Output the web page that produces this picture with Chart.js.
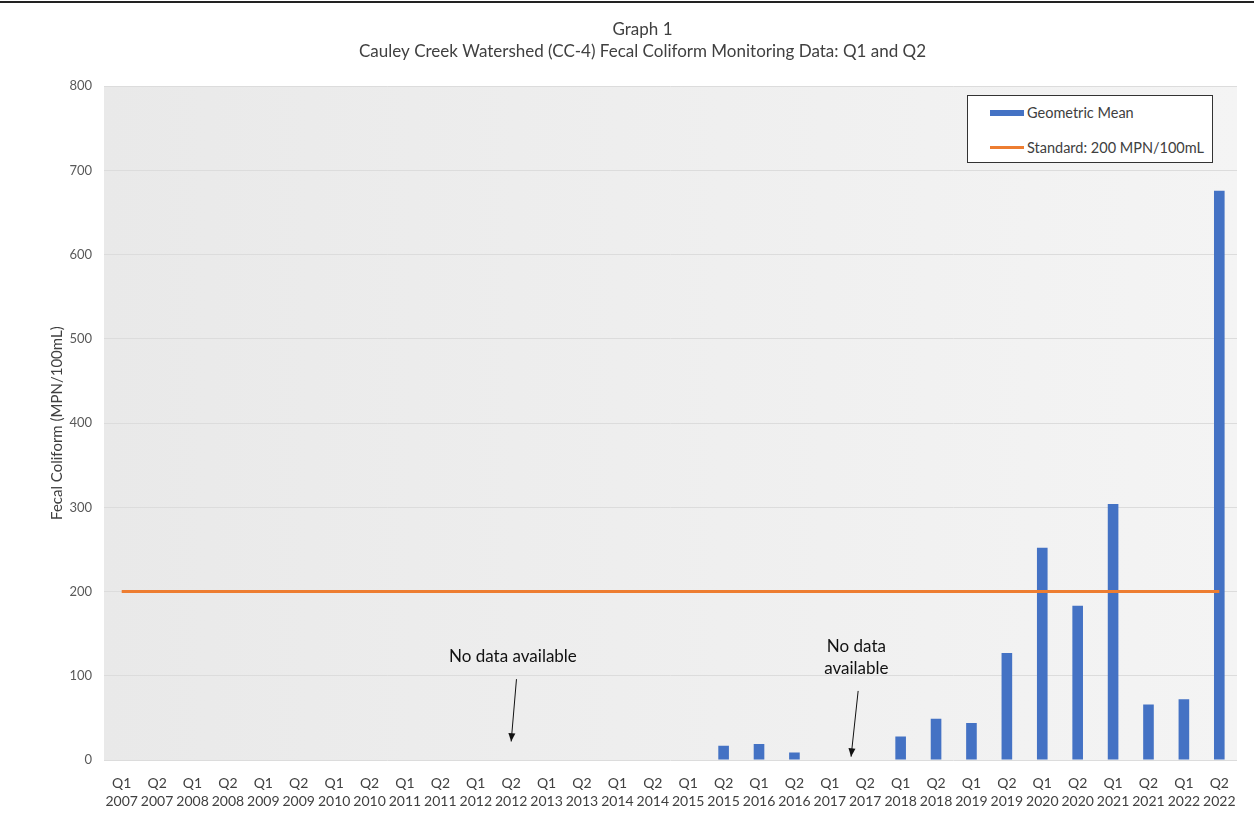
<!DOCTYPE html>
<html>
<head>
<meta charset="utf-8">
<title>Graph 1</title>
<script src="https://cdn.jsdelivr.net/npm/chart.js@4.4.1/dist/chart.umd.min.js"></script>
<style>
  html, body { margin: 0; padding: 0; background: #fff; }
  body { width: 1254px; height: 818px; position: relative; overflow: hidden; font-family: Lato, "Open Sans", sans-serif; }
  .top-rule { position: absolute; left: 0; top: 1px; width: 1254px; height: 2px; background: #222; }
  .wrap { position: absolute; left: 0; top: 0; width: 1254px; height: 818px; }
  .legend {
    position: absolute; left: 967px; top: 95px; width: 246px; height: 68px;
    box-sizing: border-box; border: 1px solid #333; background: #fff;
    font-size: 14.5px; color: #404040;
  }
  .legend .row { position: absolute; left: 22px; display: flex; align-items: center; white-space: nowrap; }
  .legend .row span.sw { display: inline-block; width: 34px; margin-right: 3px; }
  .legend .bar-sw { height: 6px; background: #4472c4; }
  .legend .line-sw { height: 3px; background: #ed7d31; }
</style>
</head>
<body>
<div class="top-rule"></div>
<div class="wrap"><canvas id="chart" width="1254" height="818"></canvas></div>
<div class="legend">
  <div class="row" style="top:8px"><span class="sw bar-sw"></span>Geometric Mean</div>
  <div class="row" style="top:43px"><span class="sw line-sw"></span>Standard: 200 MPN/100mL</div>
</div>
<script>
const quarters = ["Q1","Q2","Q1","Q2","Q1","Q2","Q1","Q2","Q1","Q2","Q1","Q2","Q1","Q2","Q1","Q2",
  "Q1","Q2","Q1","Q2","Q1","Q2","Q1","Q2","Q1","Q2","Q1","Q2","Q1","Q2","Q1","Q2"];
const years = ["2007","2007","2008","2008","2009","2009","2010","2010","2011","2011","2012","2012",
  "2013","2013","2014","2014","2015","2015","2016","2016","2017","2017","2018","2018","2019","2019",
  "2020","2020","2021","2021","2022","2022"];

// geometric mean per sample period (null = no sample)
const geoMean = [null,null,null,null,null,null,null,null,null,null,null,null,null,null,null,null,
  null,17,19,9,null,null,28,49,44,127,252,183,304,66,72,676];
const standard = quarters.map(() => 200);

const yTicks = [0,100,200,300,400,500,600,700,800];

// notes: [category index, value] for text and arrow ends
const noteText = [["No data available"], ["No data", "available"]];
const noteAt = [[11.05, 123], [20.75, 122]];
const arrowFrom = [[11.15, 96], [20.8, 82]];
const arrowTo = [[11.0, 22], [20.6, 4]];

const labels = quarters.map((q, i) => [q, years[i]]);
const FONT = "Lato, 'Open Sans', sans-serif";

const plotBg = {
  id: "plotBg",
  beforeDraw(chart) {
    const { ctx, chartArea: a } = chart;
    const g = ctx.createLinearGradient(a.left, 0, a.right, 0);
    g.addColorStop(0, "#e9e9e9");
    g.addColorStop(1, "#f4f4f4");
    ctx.save();
    ctx.fillStyle = g;
    ctx.fillRect(a.left, a.top, a.right - a.left, a.bottom - a.top);
    ctx.restore();
  },
};

const notes = {
  id: "notes",
  afterDraw(chart) {
    const { ctx } = chart;
    const x = chart.scales.x, y = chart.scales.y;
    ctx.save();
    ctx.fillStyle = "#111";
    ctx.strokeStyle = "#111";
    ctx.font = "17px " + FONT;
    ctx.textAlign = "center";
    ctx.textBaseline = "middle";
    noteText.forEach((lines, i) => {
      const cx = x.getPixelForValue(noteAt[i][0]);
      const cy = y.getPixelForValue(noteAt[i][1]);
      lines.forEach((t, j) => {
        const off = (j - (lines.length - 1) / 2) * 22;
        ctx.fillText(t, cx, cy + off);
      });
      const x1 = x.getPixelForValue(arrowFrom[i][0]), y1 = y.getPixelForValue(arrowFrom[i][1]);
      const x2 = x.getPixelForValue(arrowTo[i][0]), y2 = y.getPixelForValue(arrowTo[i][1]);
      ctx.lineWidth = 1;
      ctx.beginPath();
      ctx.moveTo(x1, y1);
      ctx.lineTo(x2, y2);
      ctx.stroke();
      const ang = Math.atan2(y2 - y1, x2 - x1);
      ctx.beginPath();
      ctx.moveTo(x2, y2);
      ctx.lineTo(x2 - 9 * Math.cos(ang - 0.4), y2 - 9 * Math.sin(ang - 0.4));
      ctx.lineTo(x2 - 9 * Math.cos(ang + 0.4), y2 - 9 * Math.sin(ang + 0.4));
      ctx.closePath();
      ctx.fill();
    });
    ctx.restore();
  },
};

new Chart(document.getElementById("chart"), {
  data: {
    labels: labels,
    datasets: [
      {
        type: "line",
        label: "Standard: 200 MPN/100mL",
        data: standard,
        borderColor: "#ed7d31",
        borderWidth: 3,
        pointRadius: 0,
        order: 0,
      },
      {
        type: "bar",
        label: "Geometric Mean",
        data: geoMean,
        backgroundColor: "#4472c4",
        barPercentage: 0.6,
        categoryPercentage: 0.5,
        order: 1,
      },
    ],
  },
  options: {
    responsive: false,
    animation: false,
    layout: { padding: { left: 48, right: 17, top: 4, bottom: 1 } },
    plugins: {
      legend: { display: false },
      tooltip: { enabled: false },
      title: {
        display: true,
        text: ["Graph 1", "Cauley Creek Watershed (CC-4) Fecal Coliform Monitoring Data: Q1 and Q2"],
        color: "#404040",
        font: { family: FONT, size: 17, weight: "normal", lineHeight: 1.3 },
        padding: { top: 14, bottom: 24 },
      },
    },
    scales: {
      x: {
        grid: { display: false },
        border: { display: false },
        ticks: {
          color: "#404040",
          font: { family: FONT, size: 14, lineHeight: 1.25 },
          maxRotation: 0,
          autoSkip: false,
          padding: 7,
        },
      },
      y: {
        min: 0,
        max: 800,
        afterBuildTicks: (axis) => { axis.ticks = yTicks.map((v) => ({ value: v })); },
        afterFit: (axis) => { axis.width = 56; },
        grid: { color: "#dcdcdc", drawTicks: false },
        border: { display: false },
        ticks: {
          color: "#595959",
          font: { family: FONT, size: 13 },
          padding: 12,
        },
        title: {
          display: true,
          text: "Fecal Coliform (MPN/100mL)",
          color: "#404040",
          font: { family: FONT, size: 15 },
          padding: { top: 0, bottom: 0 },
        },
      },
    },
  },
  plugins: [plotBg, notes],
});
</script>
</body>
</html>
